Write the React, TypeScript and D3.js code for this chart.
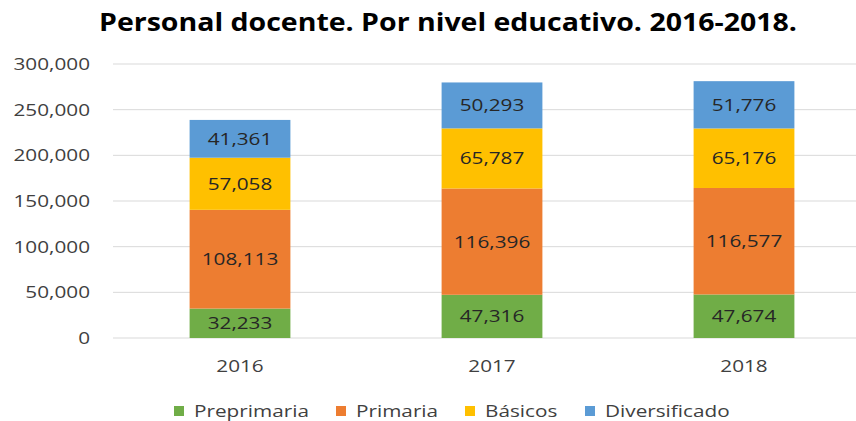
import React from 'react';
import { scaleBand, scaleLinear, stack, format } from 'd3';

const years = ['2016', '2017', '2018'];
const levels = ['Preprimaria', 'Primaria', 'Básicos', 'Diversificado'];
const preprimaria = [32233, 47316, 47674];
const primaria = [108113, 116396, 116577];
const basicos = [57058, 65787, 65176];
const diversificado = [41361, 50293, 51776];
const yTickValues = [0, 50000, 100000, 150000, 200000, 250000, 300000];
const colors = ['#70AD47', '#ED7D31', '#FFC000', '#5B9BD5'];

const font = '"Open Sans", "Noto Sans", sans-serif';
const SX = 1.22; // reference text is a bit wider than Open Sans

// text stretched horizontally around its anchor point
function T({ x, y, sx = SX, children, ...rest }: any) {
  return (
    <g transform={`translate(${x},${y}) scale(${sx},1)`}>
      <text x={0} y={0} {...rest}>{children}</text>
    </g>
  );
}

export default function App() {
  const width = 856, height = 421;
  const left = 114, right = 870, top = 64, bottom = 338;

  const rows = years.map((y, i) => ({
    year: y,
    Preprimaria: preprimaria[i],
    Primaria: primaria[i],
    'Básicos': basicos[i],
    Diversificado: diversificado[i],
  }));
  const series = stack<any>().keys(levels)(rows);

  const x = scaleBand().domain(years).range([left, right]).paddingInner(0.6).paddingOuter(0.3);
  const y = scaleLinear().domain([0, 300000]).range([bottom, top]);
  const fmt = format(',');

  const legendX = [174, 336, 465, 585];

  return (
    <svg width={width} height={height} style={{ position: 'absolute', left: 0, top: 0, fontFamily: font }}>
      <rect width={width} height={height} fill="#fff" />
      <T x={448} y={31} sx={1.14} textAnchor="middle" fontSize={25} fontWeight="bold" fill="#000">
        Personal docente. Por nivel educativo. 2016-2018.
      </T>

      {yTickValues.map(t => (
        <g key={t}>
          <line x1={113} x2={width} y1={y(t)} y2={y(t)} stroke="#D9D9D9" strokeWidth={1} />
          <T x={90} y={y(t)} dy="0.35em" textAnchor="end" fontSize={17} fill="#404040">
            {fmt(t)}
          </T>
        </g>
      ))}

      {series.map((s, si) => (
        <g key={s.key}>
          {s.map((d, i) => {
            const x0 = x(years[i])!;
            const y0 = y(d[1]), y1 = y(d[0]);
            return (
              <g key={i}>
                <rect x={x0} y={y0} width={x.bandwidth()} height={y1 - y0} fill={colors[si]} />
                <T x={x0 + x.bandwidth() / 2} y={(y0 + y1) / 2} dy="0.35em" textAnchor="middle"
                  fontSize={17} fill="#262626">
                  {fmt(d[1] - d[0])}
                </T>
              </g>
            );
          })}
        </g>
      ))}

      {years.map(yr => (
        <T key={yr} x={x(yr)! + x.bandwidth() / 2} y={372} textAnchor="middle" fontSize={17} fill="#404040">
          {yr}
        </T>
      ))}

      {levels.map((l, i) => (
        <g key={l} transform={`translate(${legendX[i]},${411})`}>
          <rect x={0} y={-5} width={10} height={10} fill={colors[i]} />
          <T x={20} y={0} dy="0.35em" fontSize={17} fill="#404040">{l}</T>
        </g>
      ))}
    </svg>
  );
}
